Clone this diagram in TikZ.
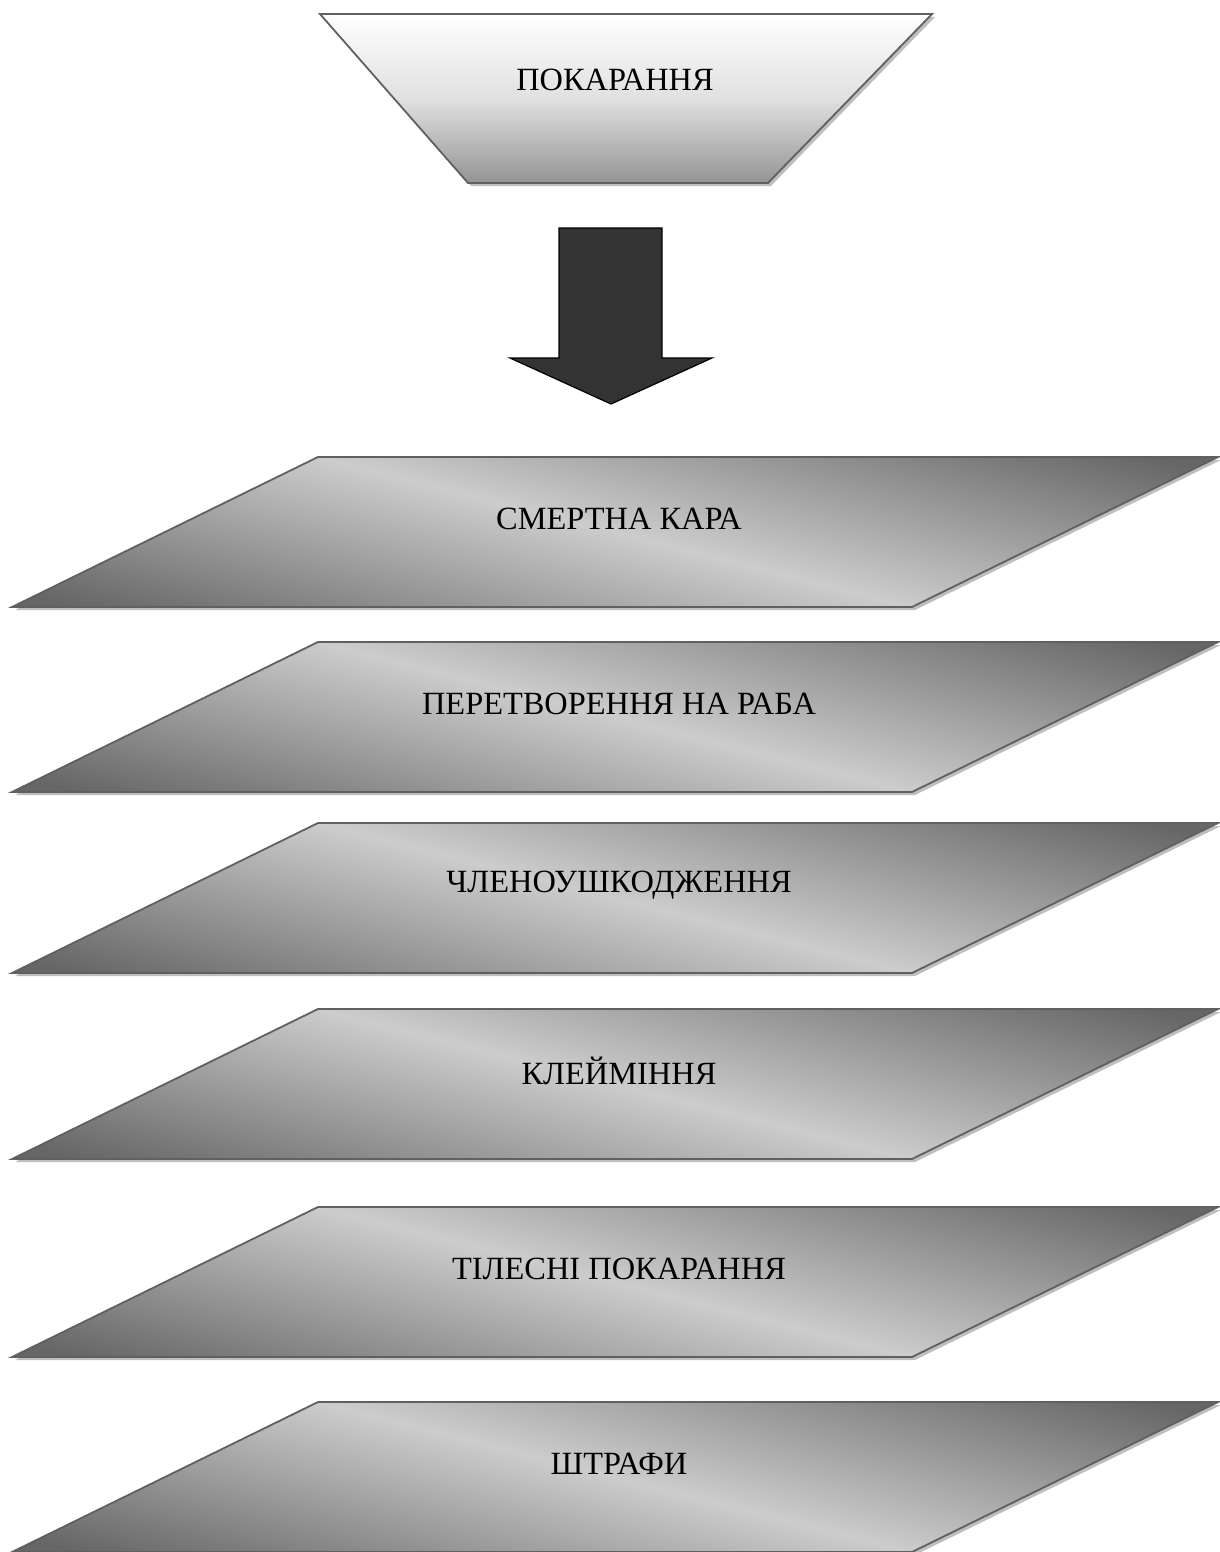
\documentclass[tikz,border=0pt]{standalone}
\usepackage{fontspec}
\setmainfont{Liberation Serif}
\definecolor{dk}{HTML}{666666}
\definecolor{lt}{HTML}{CCCCCC}
\definecolor{edge}{HTML}{606060}
\definecolor{shad}{HTML}{BEBEBE}
\definecolor{arrowfill}{HTML}{333333}
\tikzset{
  x=0.5pt, y=-0.5pt,
  lbl/.style={font=\fontsize{16.2}{19}\selectfont, text=black, inner sep=0pt},
  edgeline/.style={draw=edge, line width=0.9pt, line join=miter},
  shadowfill/.style={fill=shad},
  parashade/.style={top color=dk, bottom color=dk, middle color=lt},
  trapshade/.style={top color=white, bottom color=black!42, middle color=black!12},
}
\newcommand\mkpara[3]{%
  \fill[shadowfill] (321,#1+3) -- (1221,#1+3) -- (915,#1+153) -- (15,#1+153) -- cycle;
  \begin{scope}
    \clip (318,#1) -- (1218,#1) -- (912,#1+150) -- (12,#1+150) -- cycle;
    \fill[dk] (0,#1-5) rectangle (1230,#1+160);
    \begin{scope}[transform canvas={rotate around={-14.2:(615,#1+75)}}]
      \shade[parashade] (-100,#1+75-205) rectangle (1330,#1+75+205);
    \end{scope}
  \end{scope}
  \draw[edgeline] (318,#1) -- (1218,#1) -- (912,#1+150) -- (12,#1+150) -- cycle;
  \node[lbl] (#2) at (619,#1+62) {#3};
}
\begin{document}
\begin{tikzpicture}
\useasboundingbox (0,0) rectangle (1220,1552);
% top trapezoid
\fill[shadowfill] (323,17) -- (935,17) -- (771,186) -- (471,186) -- cycle;
\shade[trapshade] (320,14) -- (932,14) -- (768,183) -- (468,183) -- cycle;
\draw[edgeline] (320,14) -- (932,14) -- (768,183) -- (468,183) -- cycle;
\node[lbl] (pok) at (615,80) {ПОКАРАННЯ};
% block arrow
\coordinate (tip) at (611,404);
\draw[black, line width=0.6pt, fill=arrowfill, line join=miter]
  (559,228) -- (662,228) -- (662,358) -- (712,358) -- (tip) -- (510,358) -- (559,358) -- cycle;
% parallelograms
\mkpara{457}{p1}{СМЕРТНА КАРА}
\mkpara{642}{p2}{ПЕРЕТВОРЕННЯ НА РАБА}
\mkpara{823}{p3}{ЧЛЕНОУШКОДЖЕННЯ}
\mkpara{1009}{p4}{КЛЕЙМІННЯ}
\mkpara{1207}{p5}{ТІЛЕСНІ ПОКАРАННЯ}
\mkpara{1402}{p6}{ШТРАФИ}
\end{tikzpicture}
\end{document}
